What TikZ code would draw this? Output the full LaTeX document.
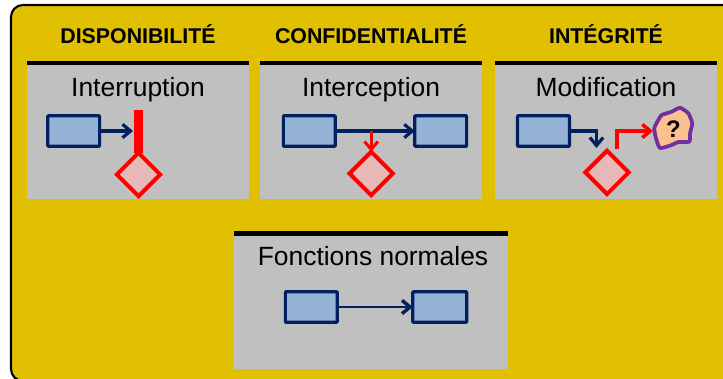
\documentclass[tikz,border=0pt]{standalone}
\usepackage{fontspec}
\setmainfont{Liberation Sans}
\usetikzlibrary{arrows.meta,shapes.geometric}
\definecolor{bgy}{HTML}{E0C000}
\definecolor{pan}{HTML}{C0C0C0}
\definecolor{navy}{HTML}{002060}
\definecolor{boxf}{HTML}{95B3D7}
\definecolor{dia}{HTML}{E6B8B7}
\definecolor{cloudf}{HTML}{FAC090}
\definecolor{pur}{HTML}{7030A0}
\tikzset{
 x=0.75pt,y=-0.75pt,
 panel/.style={fill=pan,draw=none},
 topbar/.style={fill=black,draw=none},
 head/.style={font=\fontsize{16}{18}\selectfont\bfseries,inner sep=0pt,anchor=base},
 sub/.style={font=\fontsize{19.8}{22}\selectfont,inner sep=0pt,anchor=base},
 bluebox/.style={draw=navy,fill=boxf,line width=2.4pt,rounded corners=0.6pt,minimum width=38.9pt,minimum height=22.8pt,inner sep=0pt,outer sep=0pt},
 diam/.style={diamond,aspect=1,draw=red,fill=dia,line width=3pt,minimum width=32.5pt,minimum height=32.5pt,inner sep=0pt,outer sep=0pt},
 navyarrow/.style={draw=navy,line width=2.6pt,-{Straight Barb[length=6pt,width=10pt,line width=2.4pt]}},
 thinarrow/.style={draw=navy,line width=2pt,-{Straight Barb[length=6pt,width=10pt,line width=2.6pt]}},
 redarrow/.style={draw=red,line width=2.8pt,-{Straight Barb[length=6pt,width=10pt,line width=2.6pt]}},
 redthin/.style={draw=red,line width=2pt,-{Straight Barb[length=6pt,width=10pt,line width=2.2pt]}},
}
\begin{document}
\begin{tikzpicture}
\useasboundingbox (0,0) rectangle (723,378);
\fill[white] (0,0) rectangle (723,378);
\draw[black,line width=1.6pt,fill=bgy,rounded corners=9pt] (11,5) rectangle (745,381);
% panels
\fill[panel] (27,62) rectangle (249,199);
\fill[panel] (260,62) rectangle (482,199);
\fill[panel] (495,62) rectangle (717,199);
\fill[panel] (234,232) rectangle (508,369);
\fill[topbar] (27,61) rectangle (249,65);
\fill[topbar] (260,61) rectangle (482,65);
\fill[topbar] (495,61) rectangle (717,65);
\fill[topbar] (234,231) rectangle (508,236);
% headings
\node[head] (h1) at (138,44) {DISPONIBILITÉ};
\node[head] (h2) at (371,44) {CONFIDENTIALITÉ};
\node[head] (h3) at (606,44) {INTÉGRITÉ};
\node[sub] (s1) at (138,96) {Interruption};
\node[sub] (s2) at (371,96) {Interception};
\node[sub] (s3) at (606,96) {Modification};
\node[sub] (s4) at (373,265) {Fonctions normales};
% Interruption
\node[bluebox] (a1) at (73.7,131) {};
\coordinate (b1) at (133,131);
\draw[navyarrow] (a1) -- (b1);
\node[diam] (d1) at (138.5,174.5) {};
\coordinate (c1) at (138.5,110);
\draw[red,line width=6.7pt] (c1) -- (d1.north);
% Interception
\node[bluebox] (a2) at (309.3,131) {};
\node[bluebox] (b2) at (440.7,131) {};
\draw[navyarrow] (a2) -- (b2);
\node[diam] (d2) at (371.2,173.5) {};
\coordinate (t2) at (371.2,131);
\draw[redthin] (t2) -- (d2.north);
% Modification
\node[bluebox] (a3) at (543.5,131) {};
\node[diam] (d3) at (607,172.4) {};
\coordinate (t3) at (596.5,148);
\draw[navyarrow] (a3.east) -- (t3 |- a3.east) -- (t3);
\coordinate (r3) at (617,149);
\draw[draw=pur,fill=cloudf,line width=2.8pt,line join=round]
 plot[smooth cycle,tension=0.35] coordinates {(661.7,115) (671.7,111.7) (680,107.8) (688.3,113.3) (692.2,123.3) (690,133.3) (689.3,141.7) (678.3,142) (671.7,145) (660,148) (656,138.3) (654.3,128.3) (658.3,120)};
\node[inner sep=0pt] (q) at (673.5,129.5) {\fontsize{18}{20}\selectfont\bfseries ?};
\coordinate (k3) at (653,131);
\draw[redarrow] (r3) -- (r3 |- k3) -- (k3);
% Normal
\node[bluebox] (a4) at (311.3,307) {};
\node[bluebox,minimum width=40.5pt] (b4) at (439.7,307) {};
\draw[thinarrow] (a4) -- (b4);
\end{tikzpicture}
\end{document}
